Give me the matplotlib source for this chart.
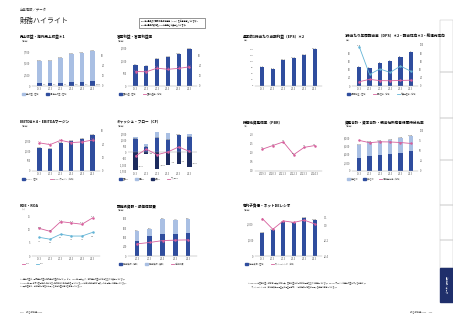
import numpy as np
import matplotlib.pyplot as plt
from matplotlib.patches import Rectangle

plt.rcParams['font.family'] = ['Noto Sans CJK JP', 'DejaVu Sans']

W, H = 453, 320
NAVY = '#2f4d9e'
LIGHT = '#a9bfe3'
PINK = '#d65f9c'
SKY = '#63b4d6'
GRAY = '#555555'

years = ['19.3', '20.3', '21.3', '22.3', '23.3', '24.3']
years5 = ['20.3', '21.3', '22.3', '23.3', '24.3']

# 売上収益・海外売上収益
sales = [5451, 5535, 6169, 6963, 7345, 7659]
overseas = [612, 598, 721, 950, 958, 1012]
# 営業利益・営業利益率
op_income = [812, 770, 1073, 1134, 1262, 1436]
op_margin = [14.1, 13.9, 17.4, 16.3, 17.2, 18.7]
# EPS
eps = [77.3, 72.5, 105.8, 114.6, 128.4, 152.1]
# 配当・配当性向・総還元性向
dividend = [46, 44, 57, 62, 71, 84]
payout = [10.5, 16.2, 13.1, 12.8, 13.5, 14.2]
total_return = [96.0, 28.4, 41.5, 33.2, 48.6, 36.1]
# EBITDA
ebitda = [1152, 1098, 1420, 1485, 1603, 1780]
ebitda_margin = [21.1, 19.8, 23.0, 21.3, 21.8, 23.2]
# キャッシュ・フロー
cf_oper = [1082, 401, 1121, 1010, 1344, 1215]
cf_fin = [150, 250, 480, 520, 0, 280]
cf_inv = [-1380, -150, -1320, -980, -920, -1150]
fcf = [-298, 251, -199, 30, 424, 65]
# PBR
pbr = [1.2, 1.4, 1.6, 0.9, 1.3, 1.4]
pbr_years = ['2019.3', '2020.3', '2021.3', '2022.3', '2023.3', '2024.3']
# 資産合計・資本合計・比率
assets = [6182, 6930, 7120, 7410, 7890, 8220]
equity = [3120, 3460, 3720, 4130, 4290, 4680]
equity_ratio = [76.5, 70.8, 73.0, 72.6, 71.2, 68.9]
# ROE・ROA
roe = [10.5, 9.4, 13.1, 12.6, 12.1, 14.5]
roa = [7.1, 6.4, 8.3, 7.6, 7.6, 9.0]
# 設備投資額・減価償却費
capex_a = [320, 420, 480, 470, 490]
capex_b = [210, 150, 320, 300, 310]
depreciation = [260, 290, 330, 340, 345]
# 有利子負債・ネットDEレシオ
debt = [1450, 1610, 2120, 2030, 2350, 2220]
net_de = [0.09, -0.05, 0.06, 0.04, 0.07, 0.02]

fig = plt.figure(figsize=(4.53, 3.2), dpi=100)


def ax_at(x0, y0, x1, y1):
    return fig.add_axes([x0 / W, 1 - y1 / H, (x1 - x0) / W, (y1 - y0) / H])


def style(ax, labels):
    for s in ['top', 'right', 'left']:
        ax.spines[s].set_visible(False)
    ax.spines['bottom'].set_linewidth(0.3)
    ax.spines['bottom'].set_color('#999999')
    ax.tick_params(labelsize=1.8, length=0, pad=1, colors=GRAY)
    ax.set_xticks(range(len(labels)))
    ax.set_xticklabels(labels)
    ax.set_xlim(-0.7, len(labels) - 0.3)


def twin(ax, lo, hi):
    t = ax.twinx()
    for s in t.spines.values():
        s.set_visible(False)
    t.set_ylim(lo, hi)
    t.tick_params(labelsize=1.8, length=0, pad=1, colors=GRAY)
    return t


def title(x, y, s):
    fig.text(x / W, 1 - y / H, s, fontsize=2.6, fontweight='bold', va='center')


def unit(x, y, s):
    fig.text(x / W, 1 - y / H, s, fontsize=1.6, color=GRAY, va='center')


def legend(x, y, items):
    # fixed spacing per character so entries never run into each other
    for col, lab, kind in items:
        if kind == 'bar':
            fig.patches.append(Rectangle((x / W, 1 - (y + 1.2) / H), 2.6 / W, 2.4 / H,
                                         transform=fig.transFigure, color=col))
        else:
            fig.lines.append(plt.Line2D([x / W, (x + 3) / W], [1 - y / H] * 2,
                                        transform=fig.transFigure, color=col, lw=0.6))
        fig.text((x + 4) / W, 1 - y / H, lab, fontsize=1.4, color=GRAY, va='center')
        x += 8 + len(lab) * 2.0


def labels_above(ax, xs, vals, fmt, col=GRAY, dy=0):
    for i, v in zip(xs, vals):
        ax.text(i, v + dy, fmt.format(v), fontsize=1.5, ha='center', va='bottom', color=col)


x = np.arange(6)
x5 = np.arange(5)

# header
fig.text(20 / W, 1 - 10 / H, '企業情報／データ', fontsize=2.4, color='#333333', va='center')
fig.text(20 / W, 1 - 21 / H, '財務ハイライト', fontsize=5, color='#222222', va='center')
fig.patches.append(Rectangle((139 / W, 1 - 27.5 / H), 66 / W, 9.5 / H, transform=fig.transFigure,
                             fill=False, lw=0.4, ec='#444444'))
fig.text(141 / W, 1 - 21 / H, '2021年3月期より国際財務報告基準（IFRS）を任意適用しています。', fontsize=1.4, va='center')
fig.text(141 / W, 1 - 24.5 / H, '2020年3月期の数値もIFRSに準拠して表示しています。', fontsize=1.4, va='center')

# 1 売上収益・海外売上収益
title(20, 37, '売上収益・海外売上収益＊1')
unit(20, 41, '（億円）')
ax = ax_at(32, 45, 100, 86)
style(ax, years)
ax.bar(x, sales, 0.45, color=LIGHT)
ax.bar(x, overseas, 0.45, color=NAVY)
ax.set_ylim(0, 9000)
ax.set_yticks([0, 2500, 5000, 7500])
ax.set_yticklabels(['0', '2,500', '5,000', '7,500'])
labels_above(ax, x, sales, '{:,}')
for i, v in zip(x, overseas):
    ax.text(i + 0.3, v * 0.4, f'{v:,}', fontsize=1.4, color=GRAY, va='center')
t = twin(ax, 0, 40)
t.set_yticks([0, 10, 20, 30])
legend(22, 94, [(LIGHT, '売上収益（左軸）', 'bar'), (NAVY, '海外売上収益（左軸）', 'bar')])

# 2 営業利益・営業利益率
title(117, 37, '営業利益・営業利益率')
unit(117, 41, '（億円）')
ax = ax_at(128, 45, 197, 86)
style(ax, years)
ax.bar(x, op_income, 0.4, color=NAVY)
ax.set_ylim(0, 1600)
ax.set_yticks([0, 500, 1000, 1500])
ax.set_yticklabels(['0', '500', '1,000', '1,500'])
labels_above(ax, x, op_income, '{:,}')
t = twin(ax, 0, 40)
t.set_yticks([0, 10, 20, 30])
t.plot(x, op_margin, color=PINK, lw=0.6, marker='o', ms=0.8)
labels_above(t, x, op_margin, '{:.1f}', PINK, 1)
legend(119, 94, [(NAVY, '営業利益（左軸）', 'bar'), (PINK, '営業利益率（右軸）', 'line')])

# 3 EPS
title(243, 37, '基本的1株当たり当期利益（EPS）＊2')
unit(243, 41, '（円）')
ax = ax_at(255, 45, 322, 86)
style(ax, years)
ax.bar(x, eps, 0.4, color=NAVY)
ax.set_ylim(0, 170)
ax.set_yticks([0, 25, 50, 75, 100, 125, 150])
ax.tick_params(axis='y', labelsize=1.6)
labels_above(ax, x, eps, '{:.1f}')

# 4 配当
title(345, 37, '1株当たり年間配当金（DPS）＊2・配当性向＊3・総還元性向')
unit(345, 41, '（円）')
ax = ax_at(352, 45, 418, 86)
style(ax, years)
ax.bar(x, dividend, 0.4, color=NAVY)
ax.set_ylim(0, 100)
ax.set_yticks([0, 20, 40, 60, 80])
labels_above(ax, x, dividend, '{}')
t = twin(ax, 0, 100)
t.set_yticks([0, 20, 40, 60, 80, 100])
t.plot(x, payout, color=PINK, lw=0.6, marker='o', ms=0.8)
t.plot(x, total_return, color=SKY, lw=0.6, marker='o', ms=0.8)
labels_above(t, x, total_return, '{:.1f}', GRAY, 1)
legend(347, 94, [(NAVY, '年間配当金（左軸）', 'bar'), (PINK, '配当性向（右軸）', 'line'),
                 (SKY, '総還元性向（右軸）', 'line')])

# 5 EBITDA
title(20, 122, 'EBITDA＊4・EBITDAマージン')
unit(20, 126, '（億円）')
ax = ax_at(32, 131, 100, 171)
style(ax, years)
ax.bar(x, ebitda, 0.4, color=NAVY)
ax.set_ylim(0, 2000)
ax.set_yticks([0, 500, 1000, 1500])
ax.set_yticklabels(['0', '500', '1,000', '1,500'])
labels_above(ax, x, ebitda, '{:,}')
t = twin(ax, 0, 30)
t.set_yticks([0, 10, 20, 30])
t.plot(x, ebitda_margin, color=PINK, lw=0.6, marker='o', ms=0.8)
labels_above(t, x, ebitda_margin, '{:.1f}', PINK, 0.5)
legend(22, 179, [(NAVY, 'EBITDA（左軸）', 'bar'), (PINK, 'EBITDAマージン（右軸）', 'line')])

# 6 キャッシュ・フロー
title(117, 122, 'キャッシュ・フロー（CF）')
unit(117, 126, '（億円）')
ax = ax_at(128, 131, 197, 171)
style(ax, years)
ax.spines['bottom'].set_visible(False)
ax.axhline(0, color='#999999', lw=0.3)
ax.bar(x, cf_oper, 0.4, color=NAVY)
ax.bar(x, cf_fin, 0.4, bottom=cf_oper, color=LIGHT)
ax.bar(x, cf_inv, 0.4, color='#1c2b5e')
ax.plot(x, fcf, color=PINK, lw=0.6, marker='o', ms=0.8)
ax.set_ylim(-1500, 1700)
ax.set_yticks([-1500, -1000, -500, 0, 500, 1000, 1500])
ax.set_yticklabels(['-1,500', '-1,000', '-500', '0', '500', '1,000', '1,500'])
labels_above(ax, x, cf_oper, '{:,}')
for i, v in zip(x, cf_inv):
    ax.text(i + 0.25, v * 0.8, f'{v:,}', fontsize=1.4, color=GRAY, va='center')
legend(119, 179, [(NAVY, '営業CF', 'bar'), (LIGHT, '財務CF', 'bar'),
                  ('#1c2b5e', '投資CF', 'bar'), (PINK, 'フリーCF', 'line')])

# 7 PBR
title(243, 122, '株価純資産倍率（PBR）')
unit(243, 126, '（倍）')
ax = ax_at(255, 131, 322, 171)
style(ax, pbr_years)
ax.plot(x, pbr, color=PINK, lw=0.6, marker='o', ms=0.8)
ax.set_ylim(0, 2.2)
ax.set_yticks([0, 0.5, 1.0, 1.5, 2.0])
labels_above(ax, x, pbr, '{:.1f}', GRAY, 0.05)

# 8 資産
title(345, 122, '資産合計・資本合計・親会社所有者帰属持分比率')
unit(345, 126, '（億円）')
ax = ax_at(352, 131, 418, 171)
style(ax, years)
ax.bar(x, assets, 0.4, color=LIGHT)
ax.bar(x, equity, 0.4, color=NAVY)
ax.set_ylim(0, 9500)
ax.set_yticks([0, 2000, 4000, 6000, 8000])
ax.set_yticklabels(['0', '2,000', '4,000', '6,000', '8,000'])
labels_above(ax, x, assets, '{:,}')
t = twin(ax, 0, 100)
t.set_yticks([0, 25, 50, 75, 100])
t.plot(x, equity_ratio, color=PINK, lw=0.6, marker='o', ms=0.8)
legend(347, 179, [(LIGHT, '資産合計', 'bar'), (NAVY, '資本合計', 'bar'),
                  (PINK, '帰属持分比率（右軸）', 'line')])

# 9 ROE・ROA
title(20, 206, 'ROE・ROA')
unit(20, 210, '（%）')
ax = ax_at(32, 214, 100, 256)
style(ax, years)
ax.plot(x, roe, color=PINK, lw=0.6, marker='o', ms=0.8)
ax.plot(x, roa, color=SKY, lw=0.6, marker='o', ms=0.8)
ax.set_ylim(0, 16)
ax.set_yticks([0, 5, 10, 15])
labels_above(ax, x, roe, '{:.1f}', GRAY, 0.3)
labels_above(ax, x, roa, '{:.1f}', GRAY, -1.6)
legend(22, 264, [(PINK, 'ROE', 'line'), (SKY, 'ROA', 'line')])

# 10 設備投資額・減価償却費
title(117, 206, '設備投資額・減価償却費')
unit(117, 210, '（億円）')
ax = ax_at(128, 214, 197, 256)
style(ax, years5)
ax.bar(x5, capex_a, 0.35, color=NAVY)
ax.bar(x5, capex_b, 0.35, bottom=capex_a, color=LIGHT)
ax.plot(x5, depreciation, color=PINK, lw=0.6, marker='o', ms=0.8)
ax.set_ylim(0, 900)
ax.set_yticks([0, 200, 400, 600, 800])
labels_above(ax, x5, [a + b for a, b in zip(capex_a, capex_b)], '{}')
legend(119, 264, [(NAVY, '設備投資額（有形）', 'bar'), (LIGHT, '設備投資額（無形）', 'bar'),
                  (PINK, '減価償却費', 'line')])

# 11 有利子負債・ネットDEレシオ
title(243, 206, '有利子負債・ネットDEレシオ')
unit(243, 210, '（億円）')
ax = ax_at(255, 214, 322, 256)
style(ax, years)
ax.bar(x, debt, 0.4, color=NAVY)
ax.set_ylim(0, 2600)
ax.set_yticks([0, 1000, 2000])
ax.set_yticklabels(['0', '1,000', '2,000'])
labels_above(ax, x, debt, '{:,}')
t = twin(ax, -0.4, 0.15)
t.set_yticks([-0.4, -0.2, 0, 0.1])
t.plot(x, net_de, color=PINK, lw=0.6, marker='o', ms=0.8)
legend(245, 264, [(NAVY, '有利子負債（左軸）', 'bar'), (PINK, 'ネットDEレシオ（右軸）', 'line')])

# footnotes
notes_l = ['＊1 売上収益は、国内売上収益と海外売上収益の合計です。なお、2021年3月期より、海外売上収益には輸出を含めて表示しています。',
           '＊2 2023年4月1日付で普通株式1株につき2株の割合で株式分割を行っています。期首に株式分割が行われたと仮定して算定しています。',
           '＊3 配当性向は、親会社の所有者に帰属する当期利益に基づき算定しています。']
notes_r = ['＊4 EBITDA＝営業利益＋減価償却費及び償却費。営業利益には一時的な要因を含めて算定しています。EBITDAマージンは売上収益に対する比率です。',
           '　　ネットDEレシオ＝（有利子負債－現金及び現金同等物）÷親会社の所有者に帰属する持分で算定しています。']
for i, s in enumerate(notes_l):
    fig.text(20 / W, 1 - (279 + i * 3.5) / H, s, fontsize=1.3, color='#444444', va='center')
for i, s in enumerate(notes_r):
    fig.text(248 / W, 1 - (283 + i * 3.5) / H, s, fontsize=1.3, color='#444444', va='center')

# page numbers
fig.text(20 / W, 1 - 312 / H, '128　統合報告書2024', fontsize=1.6, color='#555555', va='center')
fig.text(432 / W, 1 - 312 / H, '統合報告書2024　129', fontsize=1.6, color='#555555', va='center', ha='right')

# side index tabs
tabs = [(20, 72), (72, 118), (118, 160), (160, 205), (205, 240), (240, 268)]
for y0, y1 in tabs:
    fig.patches.append(Rectangle((440 / W, 1 - y1 / H), 13 / W, (y1 - y0) / H, transform=fig.transFigure,
                                 fill=False, lw=0.3, ec='#bbbbbb'))
fig.patches.append(Rectangle((440 / W, 1 - 302 / H), 13 / W, 34 / H, transform=fig.transFigure,
                             color='#1f2f6b'))
fig.text(446 / W, 1 - 285 / H, '企業情報／データ', fontsize=1.6, color='white', rotation=270,
         ha='center', va='center')

fig.savefig('out.png', dpi=100)
